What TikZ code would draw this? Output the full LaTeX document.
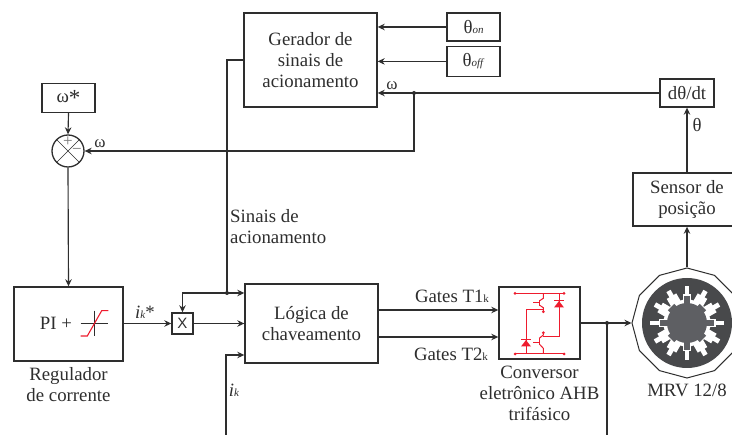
\documentclass[tikz,border=0pt]{standalone}
\usepackage{fontspec}
\setmainfont{Liberation Serif}
\newfontfamily\xfont{Liberation Sans}
\usetikzlibrary{arrows.meta,positioning,calc,shapes.geometric}
\definecolor{inkgray}{HTML}{2E2E2E}
\definecolor{signgray}{HTML}{777777}
\definecolor{ctrlred}{HTML}{EE1C2E}
\definecolor{statorgray}{HTML}{48494B}
\definecolor{rotorgray}{HTML}{5E5F63}
\newcommand{\lblsize}{\fontsize{18.8}{21}\selectfont}
\newcommand{\subtxt}[1]{{\fontsize{11}{11}\selectfont #1}}
\tikzset{
  block/.style={draw=inkgray,line width=1.4pt,fill=white,align=center,inner sep=0pt},
  conn/.style={-{Stealth[length=7pt,width=6.5pt]},line width=1.15pt,inkgray},
  wire/.style={line width=1.15pt,inkgray},
  dot/.style={circle,fill=inkgray,inner sep=0pt,minimum size=4pt},
  lbl/.style={inner sep=0pt,align=center,text=inkgray},
  small/.style={font=\fontsize{17}{17}\selectfont},
  red/.style={ctrlred,line width=1pt},
  reddot/.style={circle,fill=ctrlred,inner sep=0pt,minimum size=3pt}
}
\begin{document}
\begin{tikzpicture}[x=1pt,y=-1pt,every node/.style={font=\lblsize,text=inkgray}]
\clip (0,0) rectangle (732,435);
\fill[white] (0,0) rectangle (732,435);
% upper row
\node[block,minimum width=133pt,minimum height=94pt] (gerador) at (310.5,60) {Gerador de\\sinais de\\acionamento};
\node[block,minimum width=53pt,minimum height=28pt] (thetaon) at (473.5,27) {θ\subtxt{\textit{on}}};
\node[block,minimum width=53pt,minimum height=30pt,below=4pt of thetaon] (thetaoff) {θ\subtxt{\textit{off}}};
\node[block,minimum width=54pt,minimum height=28pt] (dtheta) at (687,93) {dθ/dt};
\node[block,minimum width=108pt,minimum height=53pt] (sensor) at (687,199.5) {Sensor de\\posição};
\node[block,minimum width=53pt,minimum height=29pt] (omegaref) at (68.5,98) {ω\raisebox{-3pt}{\fontsize{23}{23}\selectfont *}};
\node[circle,draw=inkgray,line width=1.3pt,minimum size=32pt,inner sep=0pt] (sum) at (68,151) {};
\draw[inkgray,line width=.7pt] (sum.45)--(sum.225) (sum.135)--(sum.315);
\node[lbl,text=signgray,small] (plus) at (68,142) {+};
\node[lbl,text=signgray,small] (minus) at (77,151.5) {−};
% lower row
\node[block,minimum width=109pt,minimum height=74pt] (pireg) at (68.5,324) {};
\node[lbl] (pitxt) at (56,323) {PI +};
\node[block,minimum width=21pt,minimum height=21pt] (mult) at (182.5,323.5) {\xfont\fontsize{15}{15}\selectfont X};
\node[block,minimum width=133pt,minimum height=79pt] (logica) at (311.5,323.5) {Lógica de\\chaveamento};
\node[block,minimum width=81pt,minimum height=72pt] (conv) at (539.5,323) {};
\node[regular polygon,regular polygon sides=12,shape border rotate=15,draw=inkgray,line width=1pt,fill=white,minimum size=110pt,inner sep=0pt] (motor) at (687,323) {};
% labels
\node[lbl,below=6pt of pireg] (regtxt) {Regulador\\de corrente};
\node[lbl,below=6pt of conv] (convtxt) {Conversor\\eletrônico AHB\\trifásico};
\node[lbl] (motortxt) at (687,390) {MRV 12/8};
\node[lbl,align=left,anchor=west] (sinaistxt) at (230,226.5) {Sinais de\\acionamento};
\node[lbl] (t1txt) at (452,296) {Gates T1\subtxt{k}};
\node[lbl] (t2txt) at (451,354) {Gates T2\subtxt{k}};
\node[lbl] (iktxt) at (234,390) {\textit{i}\subtxt{\textit{k}}};
\node[lbl] (ikreftxt) at (145,312) {\textit{i}\subtxt{\textit{k}}*};
\node[lbl,small] (w1txt) at (100,144) {ω};
\node[lbl,small] (w2txt) at (392,86) {ω};
\node[lbl] (thtxt) at (697,125) {θ};
% junctions and free ends
\node[dot] (jw) at (414,93) {};
\node[dot] (js) at (227,293) {};
\node[dot] (jv) at (607,323) {};
\coordinate (ikend) at (226,435);
\coordinate (vend) at (607,435);
% connectors
\foreach \a/\b in {thetaon.west/gerador.east,thetaoff.west/gerador.east,dtheta.west/gerador.east}
  \draw[conn] (\a)--(\a-|\b);
\foreach \a/\b in {omegaref.south/sum.north,sum.south/pireg.north,sensor.north/dtheta.south,motor.north/sensor.south}
  \draw[conn] (\a)--(\b);
\draw[conn] (jw.center)|-(sum.east);
\draw[conn] (pireg.east|-mult.west)--(mult.west);
\draw[conn] (mult.east)--(mult.east-|logica.west);
\draw[wire] (gerador.west)-|(js.center);
\draw[conn] (js.center)--(js.center-|logica.west);
\draw[conn] (js.center)-|(mult.north);
\draw[conn] (ikend)|-(logica.west|-0,355);
\draw[conn] (logica.east|-0,310)--(conv.west|-0,310);
\draw[conn] (logica.east|-0,337)--(conv.west|-0,337);
\draw[wire] (conv.east)--(jv.center);
\draw[conn] (jv.center)--(motor.west);
\draw[wire] (jv.center)--(vend);
% saturation symbol
\draw[inkgray,line width=.7pt] (80.7,323)--(108.3,323) (94,310.7)--(94,336);
\draw[ctrlred,line width=1.1pt] (80.7,336)--(87.3,336)--(101.7,310.7)--(108.3,310.7);
% converter leg
\draw[red] (515,293.3)--(564,293.3) (515,354)--(564,354);
\draw[red] (543.3,293.3)--(543.3,298.3)--(539.3,301) (539.3,305)--(543.3,307.7)--(543.3,311.7);
\draw[red] (539.3,300)--(539.3,306) (533.3,302.3)--(539.3,302.3);
\draw[red] (543.3,310)--(526,310)--(526,354);
\draw[red] (559,293.3)--(559,336.7)--(543.3,336.7);
\draw[red] (543.3,332.7)--(543.3,335)--(539.3,338.3) (539.3,344)--(543.3,348.3)--(543.3,354);
\draw[red] (539.3,338)--(539.3,345) (533.3,342.7)--(539.3,342.7);
\fill[ctrlred] (554,307.5)--(564,307.5)--(559,301)--cycle;
\draw[red] (554,301)--(564,301);
\fill[ctrlred] (521,346.5)--(531,346.5)--(526,340)--cycle;
\draw[red] (521,340)--(531,340);
\foreach \px/\py in {515/293.3,564/293.3,515/354,564/354,543.3/311.7,543.3/332.7}
  \node[reddot] at (\px,\py) {};
% machine cross-section
\fill[statorgray] (motor.center) circle[radius=45pt];
\fill[white] (motor.center) circle[radius=23.5pt];
\foreach \ang in {0,30,...,330}
  \fill[white,shift={(687,323)},rotate=\ang] (27,-2.4) rectangle (37,2.4);
\foreach \ang in {30,60,120,150,210,240,300,330}
  \fill[white,shift={(687,323)},rotate=\ang] (22,-5.5) rectangle (31,5.5);
\foreach \ang in {0,90,180,270}
  \fill[white,shift={(687,323)},rotate=\ang] (22,-4.2) rectangle (28.5,4.2);
\fill[rotorgray] (motor.center) circle[radius=20pt];
\foreach \ang in {45,135,225,315}
  \fill[rotorgray,shift={(687,323)},rotate=\ang] (19,-4.5) rectangle (22.5,4.5);
\foreach \ang in {0,90,180,270}
  \fill[rotorgray,shift={(687,323)},rotate=\ang] (19,-3.2) rectangle (27,3.2);
\end{tikzpicture}
\end{document}
